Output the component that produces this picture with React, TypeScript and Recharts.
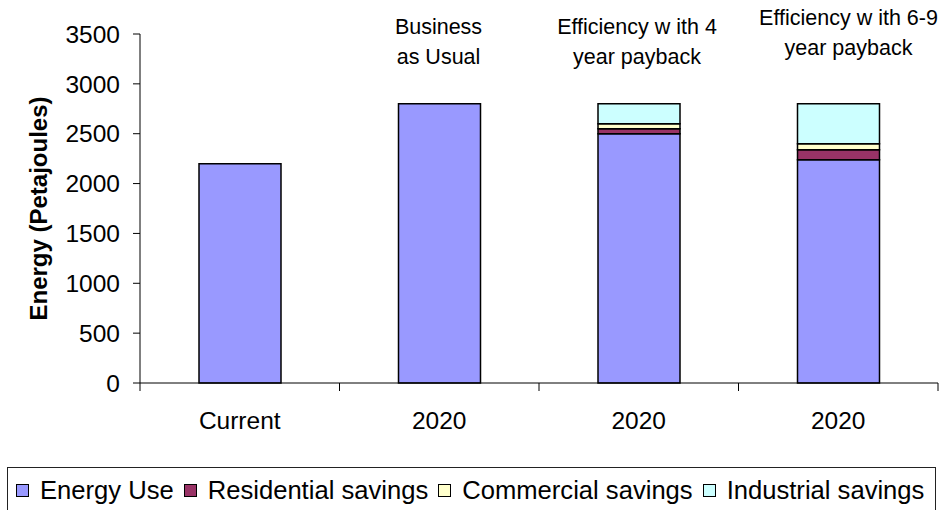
import { Bar, BarChart, LabelList, XAxis, YAxis } from "recharts";

const categories = ["Current", "2020", "2020", "2020"];
const energyUse = [2200, 2800, 2500, 2240];
const residentialSavings = [0, 0, 50, 100];
const commercialSavings = [0, 0, 50, 60];
const industrialSavings = [0, 0, 200, 400];
const scenarioNotes = [
  [],
  ["Business", "as Usual"],
  ["Efficiency w ith 4", "year payback"],
  ["Efficiency w ith 6-9", "year payback"]
];
const yTicks = [0, 500, 1000, 1500, 2000, 2500, 3000, 3500];

const series = [
  { key: "energy", name: "Energy Use", color: "#9999FF" },
  { key: "residential", name: "Residential savings", color: "#993366" },
  { key: "commercial", name: "Commercial savings", color: "#FFFFCC" },
  { key: "industrial", name: "Industrial savings", color: "#CCFFFF" }
];

const data = categories.map((label, i) => ({
  label,
  energy: energyUse[i],
  residential: residentialSavings[i],
  commercial: commercialSavings[i],
  industrial: industrialSavings[i],
  note: i
}));

const FONT = "'Liberation Sans', Arial, sans-serif";
const WIDTH = 941;
const HEIGHT = 440;
const MARGIN = { top: 34, right: 3, left: 0, bottom: 0 };
const X_AXIS_HEIGHT = 57;
const Y_AXIS_WIDTH = 140;
const BAND = (WIDTH - MARGIN.left - MARGIN.right - Y_AXIS_WIDTH) / categories.length;

function CategoryTick(props: any) {
  const { x, y, payload, index } = props;
  const left = x - BAND / 2;
  return (
    <g>
      <line x1={left} x2={left} y1={y} y2={y + 8} stroke="#000" />
      {index === categories.length - 1 ? (
        <line x1={x + BAND / 2} x2={x + BAND / 2} y1={y} y2={y + 8} stroke="#000" />
      ) : null}
      <text x={x} y={y + 46} textAnchor="middle" fontSize={24.5} fontFamily={FONT} fill="#000">
        {payload.value}
      </text>
    </g>
  );
}

function ScenarioNote(props: any) {
  const { x, width, value } = props;
  const lines = scenarioNotes[value] || [];
  // the last note sits a little higher and further right than the others
  const top = value === 3 ? 25 : 34;
  const cx = x + width / 2 + (value === 3 ? 10 : value === 2 ? -2 : -1);
  return (
    <text textAnchor="middle" fontSize={21.5} fontFamily={FONT} fill="#000">
      {lines.map((line, i) => (
        <tspan key={i} x={cx} y={top + i * 30}>
          {line}
        </tspan>
      ))}
    </text>
  );
}

function AxisTitle(props: any) {
  const { viewBox } = props;
  const cy = viewBox.y + viewBox.height / 2;
  return (
    <text
      x={38}
      y={cy}
      transform={`rotate(-90, 38, ${cy})`}
      textAnchor="middle"
      dominantBaseline="central"
      fontSize={24}
      fontWeight="bold"
      fontFamily={FONT}
      fill="#000"
    >
      Energy (Petajoules)
    </text>
  );
}

function LegendBox() {
  return (
    <div
      style={{
        position: "absolute",
        left: 7,
        top: 467,
        width: 929,
        height: 46,
        boxSizing: "border-box",
        border: "1px solid #222",
        display: "flex",
        alignItems: "center",
        paddingLeft: 8,
        fontFamily: FONT,
        fontSize: 25.6,
        color: "#000",
        whiteSpace: "nowrap"
      }}
    >
      {series.map((s) => (
        <span key={s.key} style={{ display: "flex", alignItems: "center", marginRight: 10 }}>
          <span
            style={{
              width: 11,
              height: 11,
              background: s.color,
              border: "1px solid #000",
              marginRight: 11,
              display: "inline-block"
            }}
          />
          {s.name}
        </span>
      ))}
    </div>
  );
}

export default function App() {
  return (
    <div style={{ position: "absolute", left: 0, top: 0, width: WIDTH, height: 510, background: "#fff" }}>
      <BarChart width={WIDTH} height={HEIGHT} data={data} margin={MARGIN} barSize={82}>
        <XAxis
          dataKey="label"
          height={X_AXIS_HEIGHT}
          tickLine={false}
          tickSize={0}
          tickMargin={0}
          axisLine={{ stroke: "#000" }}
          tick={<CategoryTick />}
          interval={0}
        />
        <YAxis
          width={Y_AXIS_WIDTH}
          domain={[0, 3500]}
          ticks={yTicks}
          interval={0}
          tickSize={7}
          tickMargin={13}
          axisLine={{ stroke: "#000" }}
          tickLine={{ stroke: "#000" }}
          tick={{ fontSize: 24.5, fontFamily: FONT, fill: "#000" }}
          label={{ content: <AxisTitle /> }}
        />
        {series.map((s, i) => (
          <Bar
            key={s.key}
            dataKey={s.key}
            name={s.name}
            stackId="total"
            fill={s.color}
            stroke="#000"
            strokeWidth={1.5}
            isAnimationActive={false}
          >
            {i === 0 ? <LabelList dataKey="note" content={<ScenarioNote />} /> : null}
          </Bar>
        ))}
      </BarChart>
      <LegendBox />
    </div>
  );
}
